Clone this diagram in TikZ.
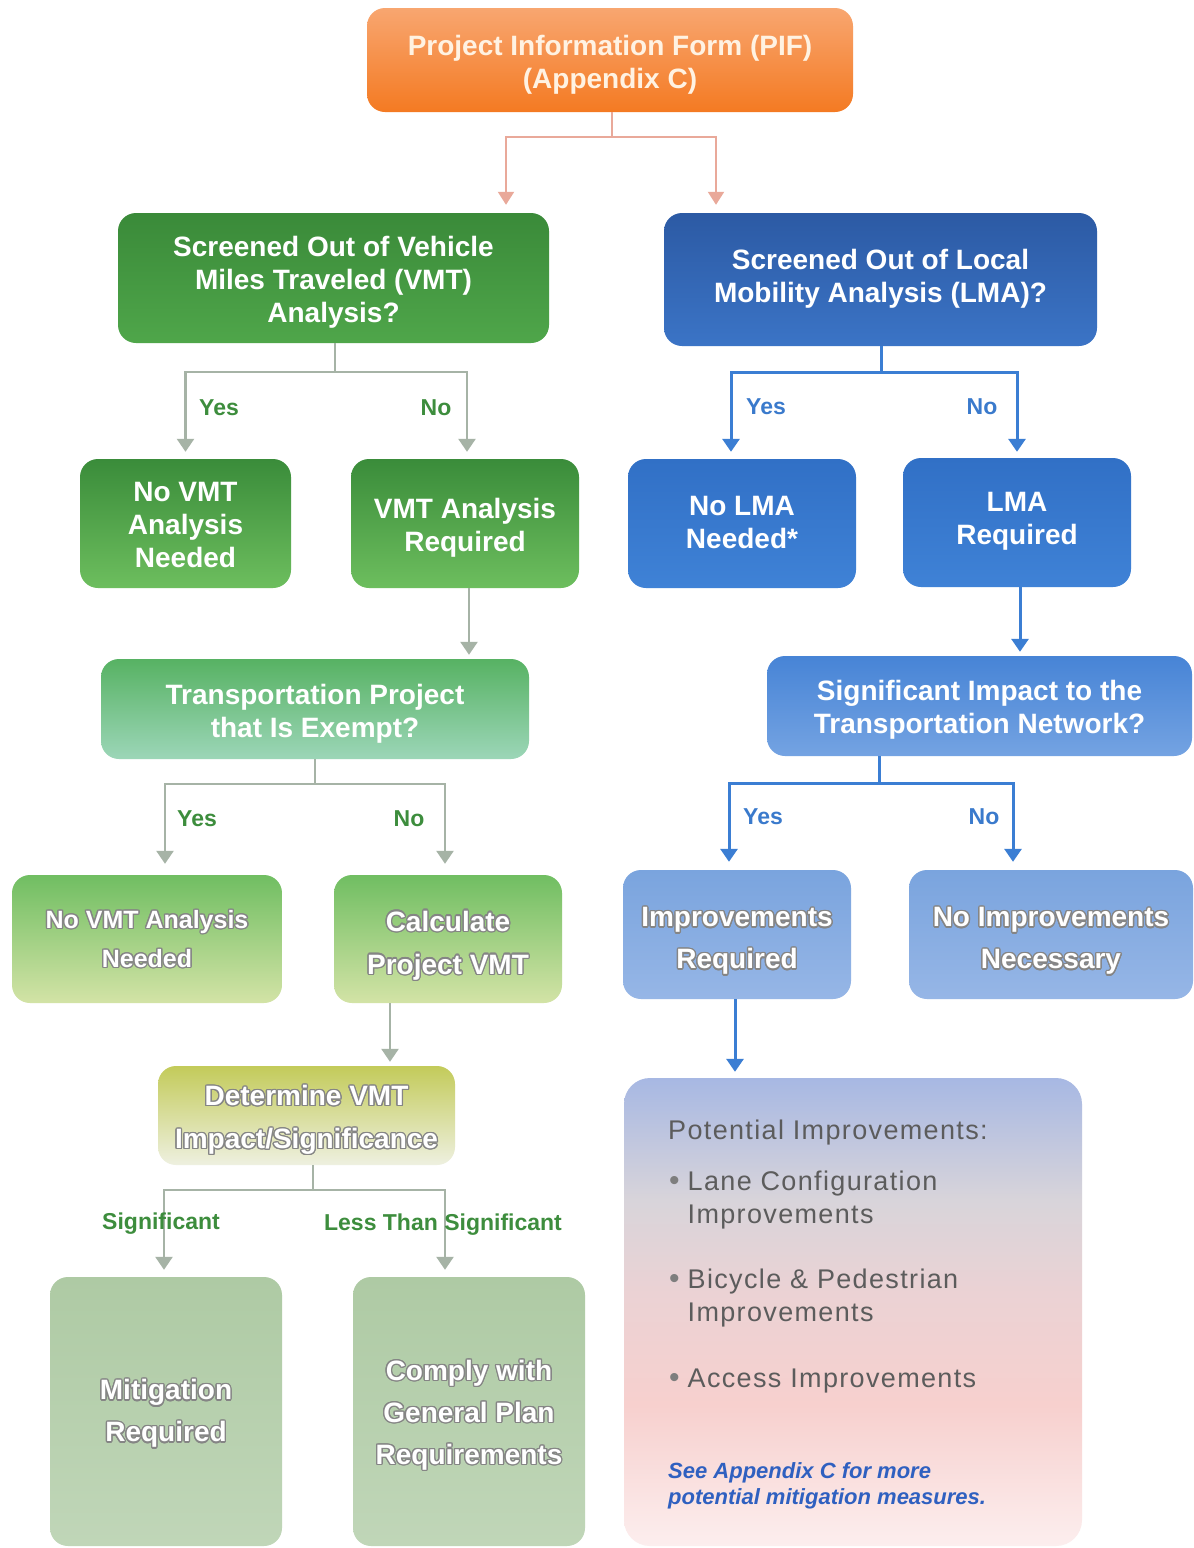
\documentclass[tikz,border=0pt]{standalone}
\usepackage{fontspec}
\setmainfont{Liberation Sans}
\usepackage{contour}
\contourlength{1.3pt}
\contournumber{16}
\usetikzlibrary{arrows.meta,calc}
\definecolor{pifT}{HTML}{F8A670}
\definecolor{pifB}{HTML}{F47A22}
\definecolor{pifText}{HTML}{FFF2E2}
\definecolor{dgT}{HTML}{3A8A39}
\definecolor{dgB}{HTML}{4FA64A}
\definecolor{g2T}{HTML}{3A8C3A}
\definecolor{g2B}{HTML}{6DBE5E}
\definecolor{lmaT}{HTML}{2C5AA4}
\definecolor{lmaB}{HTML}{3B74C6}
\definecolor{b2T}{HTML}{3170C6}
\definecolor{b2B}{HTML}{3F82D6}
\definecolor{trT}{HTML}{57B263}
\definecolor{trB}{HTML}{9CD6B8}
\definecolor{sigT}{HTML}{4784D6}
\definecolor{sigB}{HTML}{74A3E2}
\definecolor{g3T}{HTML}{70BE62}
\definecolor{g3B}{HTML}{D3E3A6}
\definecolor{irT}{HTML}{7AA4DE}
\definecolor{irB}{HTML}{96B6E6}
\definecolor{detT}{HTML}{C3CB5A}
\definecolor{detB}{HTML}{EEF0E0}
\definecolor{sgT}{HTML}{AECAA4}
\definecolor{sgB}{HTML}{C0D6B8}
\definecolor{potTop}{HTML}{A7B8E3}
\definecolor{potMid}{HTML}{D8D4DA}
\definecolor{potRose}{HTML}{EBD2D4}
\definecolor{potPink}{HTML}{F7D0CE}
\definecolor{potBot}{HTML}{FCEEEE}
\definecolor{labgreen}{HTML}{3D8D3D}
\definecolor{labblue}{HTML}{3A7ACC}
\definecolor{olinec}{HTML}{E9A99A}
\definecolor{glinec}{HTML}{A6B3A6}
\definecolor{blinec}{HTML}{3B7ED3}
\definecolor{pottxt}{HTML}{5C5C5C}
\definecolor{bulc}{HTML}{7E7E7E}
\definecolor{notec}{HTML}{2F60C0}
\definecolor{halo}{HTML}{858585}
\pgfdeclareverticalshading{potshade}{100bp}{color(0bp)=(potBot); color(25bp)=(potBot); color(40bp)=(potPink); color(52bp)=(potRose); color(62bp)=(potMid); color(75bp)=(potTop); color(100bp)=(potTop)}
\newcommand\bxfont{\bfseries\fontsize{28}{33}\selectfont}
\newcommand\lbfont{\bfseries\fontsize{23}{26}\selectfont}
\newcommand\ptfont{\fontsize{27}{33}\selectfont\addfontfeature{LetterSpace=5}}
\newcommand\lowr[2][-5pt]{\raisebox{#1}[\height][\depth]{\begin{tabular}{@{}c@{}}#2\end{tabular}}}
\newcommand\hl[1]{\contour{halo}{#1}}
\newcommand\bul{\textcolor{bulc}{\fontsize{30}{30}\selectfont\textbullet}}
\begin{document}
\begin{tikzpicture}[x=1pt,y=-1pt,
  box/.style={rounded corners=18pt, align=center, inner sep=0pt, text=white, font=\bxfont},
  glab/.style={text=labgreen, font=\lbfont, inner sep=0pt},
  blab/.style={text=labblue, font=\lbfont, inner sep=0pt},
  oline/.style={draw=olinec, line width=2pt},
  oarr/.style={oline, -{Triangle[width=16pt,length=13pt]}},
  gline/.style={draw=glinec, line width=2.5pt},
  garr/.style={gline, -{Triangle[width=17pt,length=13pt]}},
  bline/.style={draw=blinec, line width=3pt},
  barr/.style={bline, -{Triangle[width=17pt,length=13pt]}},
  pottext/.style={text=pottxt, font=\ptfont, inner sep=0pt, align=left}
]
\useasboundingbox[fill=white] (0,0) rectangle (1194,1548);

% boxes
\node[box, minimum width=486pt, minimum height=104pt, top color=pifT, bottom color=pifB, text=pifText] (pif) at (610,60) {\lowr{Project Information Form (PIF)\\(Appendix C)}};
\node[box, minimum width=431pt, minimum height=130pt, top color=dgT, bottom color=dgB] (vmt) at (333.5,278) {\lowr{Screened Out of Vehicle\\Miles Traveled (VMT)\\Analysis?}};
\node[box, minimum width=433pt, minimum height=133pt, top color=lmaT, bottom color=lmaB] (lma) at (880.5,279.5) {\lowr[0pt]{Screened Out of Local\\Mobility Analysis (LMA)?}};
\node[box, minimum width=211pt, minimum height=129pt, top color=g2T, bottom color=g2B] (novmt) at (185.5,523.5) {\lowr[-4pt]{No VMT\\Analysis\\Needed}};
\node[box, minimum width=228pt, minimum height=129pt, top color=g2T, bottom color=g2B] (vreq) at (465,523.5) {\lowr{VMT Analysis\\Required}};
\node[box, minimum width=228pt, minimum height=129pt, top color=b2T, bottom color=b2B] (nolma) at (742,523.5) {\lowr[-2pt]{No LMA\\Needed*}};
\node[box, minimum width=228pt, minimum height=129pt, top color=b2T, bottom color=b2B] (lreq) at (1017,522.5) {\lowr[1pt]{LMA\\Required}};
\node[box, minimum width=428pt, minimum height=100pt, top color=trT, bottom color=trB] (trans) at (315,709) {\lowr{Transportation Project\\that Is Exempt?}};
\node[box, minimum width=425pt, minimum height=100pt, top color=sigT, bottom color=sigB] (sig) at (979.5,706) {\lowr[-4pt]{Significant Impact to the\\Transportation Network?}};
\node[box, font=\bfseries\fontsize{25}{39}\selectfont, minimum width=270pt, minimum height=128pt, top color=g3T, bottom color=g3B] (novmt2) at (147,939) {\lowr[-1pt]{\hl{No VMT Analysis}\\\hl{Needed}}};
\node[box, font=\bfseries\fontsize{28}{43}\selectfont, minimum width=228pt, minimum height=128pt, top color=g3T, bottom color=g3B] (calc) at (448,939) {\lowr{\hl{Calculate}\\\hl{Project VMT}}};
\node[box, font=\bfseries\fontsize{28}{42}\selectfont, minimum width=228pt, minimum height=129pt, top color=irT, bottom color=irB] (impreq) at (737,934.5) {\lowr{\hl{Improvements}\\\hl{Required}}};
\node[box, font=\bfseries\fontsize{28}{42}\selectfont, minimum width=284pt, minimum height=129pt, top color=irT, bottom color=irB] (noimp) at (1051,934.5) {\lowr{\hl{No Improvements}\\\hl{Necessary}}};
\node[box, font=\bfseries\fontsize{28}{43}\selectfont, minimum width=297pt, minimum height=99pt, top color=detT, bottom color=detB] (det) at (306.5,1115.5) {\lowr[-3pt]{\hl{Determine VMT}\\\hl{Impact/Significance}}};
\node[box, font=\bfseries\fontsize{28}{42}\selectfont, minimum width=232pt, minimum height=269pt, top color=sgT, bottom color=sgB] (mit) at (166,1411.5) {\lowr[-1pt]{\hl{Mitigation}\\\hl{Required}}};
\node[box, font=\bfseries\fontsize{28}{42}\selectfont, minimum width=232pt, minimum height=269pt, top color=sgT, bottom color=sgB] (comply) at (469,1411.5) {\lowr[-2.5pt]{\hl{Comply with}\\\hl{General Plan}\\\hl{Requirements}}};
\node[rounded corners=26pt, minimum width=458pt, minimum height=468pt, inner sep=0pt, shade, shading=potshade] (pot) at (853,1312) {};

% PIF connectors
\coordinate (pj) at ($(pif.south)+(2,25)$);
\draw[oline] ($(pif.south)+(2,0)$) -- (pj);
\draw[oarr] (pj) -| ($(vmt.north)+(172.5,-8)$);
\draw[oarr] (pj) -| ($(lma.north)+(-164.5,-8)$);

% VMT branch
\coordinate (vj) at ($(vmt.south)+(1.5,29)$);
\draw[gline] ($(vmt.south)+(1.5,0)$) -- (vj);
\draw[garr] (vj) -| ($(novmt.north)+(0,-7)$);
\draw[garr] (vj) -| ($(vreq.north)+(2,-7)$);
\node[glab] (y1) at (219,408) {Yes};
\node[glab] (n1) at (436,408) {No};

% LMA branch
\coordinate (lj) at ($(lma.south)+(0.5,26)$);
\draw[bline] ($(lma.south)+(0.5,0)$) -- (lj);
\draw[barr] (lj) -| ($(nolma.north)+(-11,-7)$);
\draw[barr] (lj) -| ($(lreq.north)+(0,-6)$);
\node[blab] (y2) at (766,407) {Yes};
\node[blab] (n2) at (982,407) {No};

% straight arrows
\draw[garr] ($(vreq.south)+(4,0)$) -- ($(trans.north)+(154,-4)$);
\draw[barr] ($(lreq.south)+(3,0)$) -- ($(sig.north)+(40.5,-4)$);

% Transportation branch
\coordinate (tj) at ($(trans.south)+(0,25)$);
\draw[gline] (trans.south) -- (tj);
\draw[garr] (tj) -| ($(novmt2.north)+(18,-11)$);
\draw[garr] (tj) -| ($(calc.north)+(-3,-11)$);
\node[glab] (y3) at (197,819) {Yes};
\node[glab] (n3) at (409,819) {No};

% Significant impact branch
\coordinate (sj) at ($(sig.south)+(-100.5,27)$);
\draw[bline] ($(sig.south)+(-100.5,0)$) -- (sj);
\draw[barr] (sj) -| ($(impreq.north)+(-8,-8)$);
\draw[barr] (sj) -| ($(noimp.north)+(-38,-8)$);
\node[blab] (y4) at (763,817) {Yes};
\node[blab] (n4) at (984,817) {No};

% calc -> det, impreq -> pot
\draw[garr] ($(calc.south)+(-58,0)$) -- ($(det.north)+(83.5,-4)$);
\draw[barr] ($(impreq.south)+(-2,0)$) -- ($(pot.north)+(-118,-6)$);

% det branch
\coordinate (dj) at ($(det.south)+(6.5,25)$);
\draw[gline] ($(det.south)+(6.5,0)$) -- (dj);
\draw[garr] (dj) -| ($(mit.north)+(-2,-7)$);
\draw[garr] (dj) -| ($(comply.north)+(-24,-7)$);
\node[glab] (s1) at (161,1224) {Significant};
\node[glab] (s2) at (443,1225) {Less Than Significant};

% Potential improvements text
\node[pottext, anchor=west] (pt0) at (668,1133) {Potential Improvements:};
\node[pottext, anchor=west] (pt1) at (669,1200) {\begin{tabular}{@{}l@{\hspace{8pt}}l@{}}\bul & Lane Configuration\\ & Improvements\end{tabular}};
\node[pottext, anchor=west] (pt2) at (669,1298) {\begin{tabular}{@{}l@{\hspace{8pt}}l@{}}\bul & Bicycle \& Pedestrian\\ & Improvements\end{tabular}};
\node[pottext, anchor=west] (pt3) at (669,1381) {\begin{tabular}{@{}l@{\hspace{8pt}}l@{}}\bul & Access Improvements\end{tabular}};
\node[text=notec, font=\bfseries\itshape\fontsize{22}{26}\selectfont, align=left, inner sep=0pt, anchor=west] (note) at (668,1486) {See Appendix C for more\\potential mitigation measures.};
\end{tikzpicture}
\end{document}
